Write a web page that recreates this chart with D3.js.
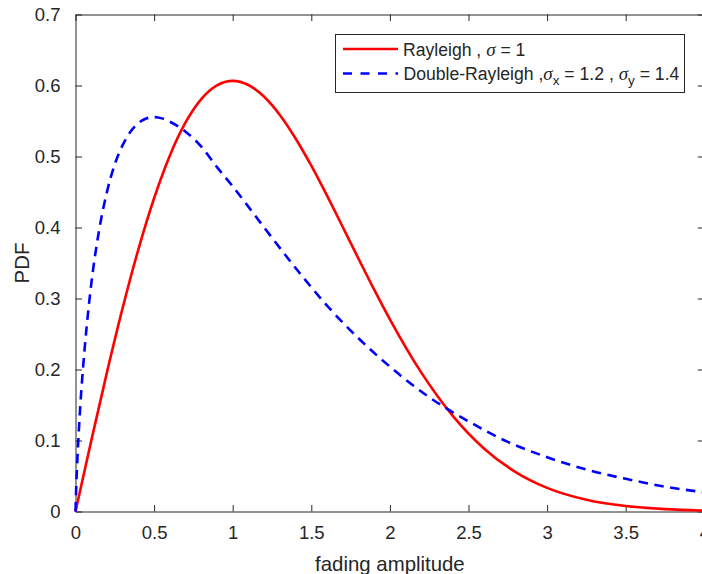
<!DOCTYPE html>
<html>
<head>
<meta charset="utf-8">
<script src="https://cdn.jsdelivr.net/npm/d3@7"></script>
<style>
  html, body { margin: 0; padding: 0; background: #fff; }
  svg { display: block; }
  text { font-family: "Liberation Sans", Arial, Helvetica, sans-serif; fill: #262626; }
</style>
</head>
<body>
<script>
// ---- data ----
const xTicks = [0, 0.5, 1, 1.5, 2, 2.5, 3, 3.5, 4];
const xTickLabels = ["0", "0.5", "1", "1.5", "2", "2.5", "3", "3.5", "4"];
const yTicks = [0, 0.1, 0.2, 0.3, 0.4, 0.5, 0.6, 0.7];
const yTickLabels = ["0", "0.1", "0.2", "0.3", "0.4", "0.5", "0.6", "0.7"];

const rayleighX = [0, 0.1, 0.2, 0.3, 0.4, 0.5, 0.6, 0.7, 0.8, 0.9, 1.0, 1.1, 1.2, 1.3, 1.4, 1.5, 1.6, 1.7, 1.8, 1.9, 2.0, 2.2, 2.4, 2.6, 2.8, 3.0, 3.25, 3.5, 3.75, 4.0];
const rayleighY = [0, 0.0995, 0.196, 0.2868, 0.3692, 0.4412, 0.5012, 0.5479, 0.5809, 0.6003, 0.6065, 0.6007, 0.5841, 0.5585, 0.5254, 0.487, 0.4448, 0.4007, 0.3562, 0.3125, 0.2707, 0.1956, 0.1347, 0.0885, 0.0556, 0.0333, 0.0166, 0.0077, 0.0033, 0.0013];

const doubleX = [0, 0.005, 0.01, 0.02, 0.03, 0.05, 0.07, 0.1, 0.15, 0.2, 0.25, 0.3, 0.35, 0.4, 0.45, 0.5, 0.55, 0.6, 0.7, 0.8, 0.9, 1.0, 1.2, 1.4, 1.6, 1.8, 2.0, 2.25, 2.5, 2.75, 3.0, 3.25, 3.5, 3.75, 4.0];
const doubleY = [0, 0.037, 0.064, 0.109, 0.147, 0.208, 0.258, 0.320, 0.396, 0.450, 0.489, 0.516, 0.535, 0.547, 0.5535, 0.5555, 0.5537, 0.549, 0.535, 0.514, 0.485, 0.458, 0.400, 0.343, 0.290, 0.244, 0.204, 0.161, 0.127, 0.098, 0.0765, 0.059, 0.046, 0.035, 0.027];

const xLabel = "fading amplitude";
const yLabel = "PDF";

// ---- layout ----
const W = 702, H = 574;
const pLeft = 75.5, pRight = 704.3, pTop = 14.5, pBottom = 511.5;
const axisColor = "#262626";

const svg = d3.select("body").append("svg").attr("width", W).attr("height", H);

const x = d3.scaleLinear().domain([0, 4]).range([pLeft, pRight]);
const y = d3.scaleLinear().domain([0, 0.7]).range([pBottom, pTop]);

svg.append("defs").append("clipPath").attr("id", "plotclip")
  .append("rect").attr("x", pLeft - 2).attr("y", pTop).attr("width", pRight - pLeft + 4).attr("height", pBottom - pTop + 2);

const tickLen = 6.5;
const gAxes = svg.append("g");

const bottomAxis = d3.axisBottom(x).tickValues(xTicks).tickFormat((d, i) => xTickLabels[i]).tickSizeInner(-tickLen).tickSizeOuter(0).tickPadding(14);
const topAxis = d3.axisTop(x).tickValues(xTicks).tickFormat("").tickSizeInner(-tickLen).tickSizeOuter(0);
const leftAxis = d3.axisLeft(y).tickValues(yTicks).tickFormat((d, i) => yTickLabels[i]).tickSizeInner(-tickLen).tickSizeOuter(0).tickPadding(15);
const rightAxis = d3.axisRight(y).tickValues(yTicks).tickFormat("").tickSizeInner(-tickLen).tickSizeOuter(0);

function style(g) {
  g.selectAll(".domain").attr("stroke", axisColor).attr("stroke-width", 1);
  g.selectAll(".tick line").attr("stroke", axisColor).attr("stroke-width", 1);
  g.selectAll(".tick text").attr("fill", axisColor).style("font-size", "18.5px")
    .style("font-family", "'Liberation Sans', Arial, Helvetica, sans-serif");
}

gAxes.append("g").attr("transform", `translate(0,${pBottom})`).call(bottomAxis).call(style);
gAxes.append("g").attr("transform", `translate(0,${pTop})`).call(topAxis).call(style);
gAxes.append("g").attr("transform", `translate(${pLeft},0)`).call(leftAxis).call(style);
gAxes.append("g").attr("transform", `translate(${pRight},0)`).call(rightAxis).call(style);

svg.append("text").attr("x", x(2)).attr("y", 570.5).attr("text-anchor", "middle")
  .style("font-size", "20.4px").text(xLabel);
svg.append("text").attr("transform", `translate(28.5,${(pTop + pBottom) / 2}) rotate(-90)`)
  .attr("text-anchor", "middle").style("font-size", "20.4px").text(yLabel);

const line = d3.line().x(d => x(d[0])).y(d => y(d[1])).curve(d3.curveMonotoneX);
const gData = svg.append("g").attr("clip-path", "url(#plotclip)");

gData.append("path").datum(rayleighX.map((v, i) => [v, rayleighY[i]]))
  .attr("d", line).attr("fill", "none").attr("stroke", "#ff0000").attr("stroke-width", 2.6)
  .attr("stroke-linejoin", "round");

gData.append("path").datum(doubleX.map((v, i) => [v, doubleY[i]]))
  .attr("d", line).attr("fill", "none").attr("stroke", "#0000ff").attr("stroke-width", 2.6)
  .attr("stroke-dasharray", "9.5,6.5");

const lg = svg.append("g");
lg.append("rect").attr("x", 335.5).attr("y", 34.5).attr("width", 349).attr("height", 58)
  .attr("fill", "#fff").attr("stroke", axisColor).attr("stroke-width", 1);

lg.append("line").attr("x1", 343).attr("x2", 398).attr("y1", 49).attr("y2", 49)
  .attr("stroke", "#ff0000").attr("stroke-width", 2.6);
lg.append("line").attr("x1", 343).attr("x2", 398).attr("y1", 73.5).attr("y2", 73.5)
  .attr("stroke", "#0000ff").attr("stroke-width", 2.6).attr("stroke-dasharray", "9,8.5");

const fs = "17.6px";
const serif = "'Liberation Serif', 'Times New Roman', serif";
const t1 = lg.append("text").attr("x", 403).attr("y", 56).style("font-size", fs);
t1.append("tspan").text("Rayleigh , ");
t1.append("tspan").style("font-style", "italic").style("font-family", serif).style("font-size", "19px").text("σ");
t1.append("tspan").text(" = 1");

const t2 = lg.append("text").attr("x", 403.5).attr("y", 79.5).style("font-size", fs);
t2.append("tspan").text("Double-Rayleigh ,");
t2.append("tspan").style("font-style", "italic").style("font-family", serif).style("font-size", "19px").text("σ");
t2.append("tspan").attr("dy", 5.5).style("font-size", "13.5px").text("x");
t2.append("tspan").attr("dy", -5.5).text(" = 1.2 , ");
t2.append("tspan").style("font-style", "italic").style("font-family", serif).style("font-size", "19px").text("σ");
t2.append("tspan").attr("dy", 5.5).style("font-size", "13.5px").text("y");
t2.append("tspan").attr("dy", -5.5).text(" = 1.4");
</script>
</body>
</html>
